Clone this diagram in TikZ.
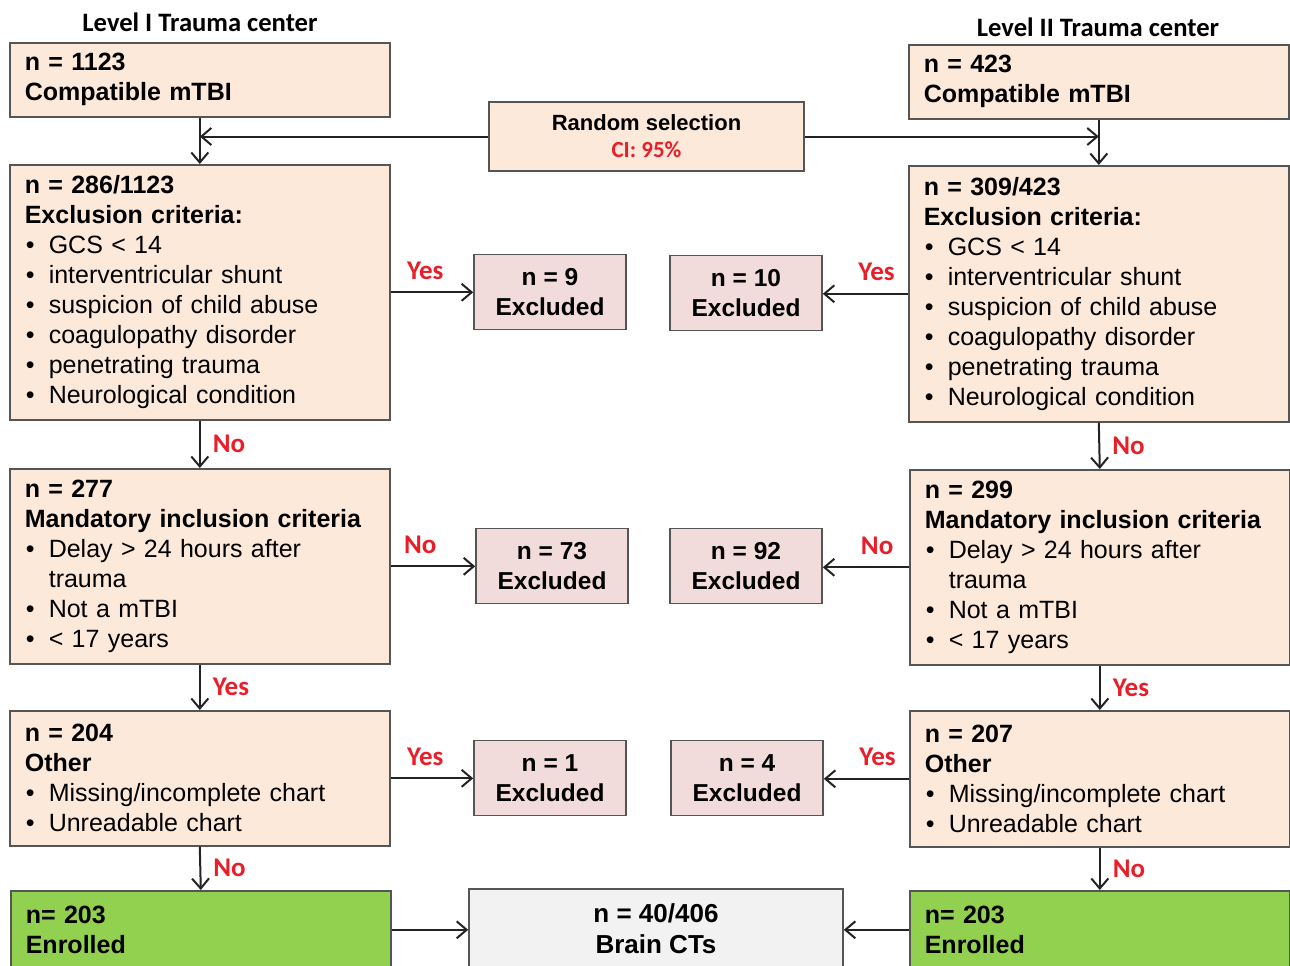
\documentclass[tikz,border=0pt]{standalone}
\usepackage{fontspec}
\setmainfont{Liberation Sans}
\newfontfamily\carlito{Carlito}
\usepackage{tikz}
\usetikzlibrary{arrows.meta, positioning}

\definecolor{peach}{RGB}{252,233,218}
\definecolor{pinkx}{RGB}{242,220,219}
\definecolor{greenx}{RGB}{146,208,80}
\definecolor{grayx}{RGB}{242,242,242}
\definecolor{edge}{RGB}{85,85,85}
\definecolor{arrowc}{RGB}{35,35,35}
\definecolor{lblred}{RGB}{232,30,40}

\newcommand{\bul}{\makebox[12pt][l]{\hspace{0.5pt}\textbullet}}
\newcommand{\ind}{\hspace*{12pt}}

\begin{document}
\begin{tikzpicture}[x=0.5pt, y=-0.5pt]
\tikzstyle{block} = [draw=edge, line width=0.8pt, fill=peach, anchor=north west,
    text width=175pt, inner xsep=7.5pt, inner ysep=0pt, align=left,
    font=\fontsize{12.5}{15}\selectfont]
\tikzstyle{excl} = [draw=edge, line width=0.8pt, fill=pinkx, minimum width=76pt,
    minimum height=37.5pt, align=center, font=\fontsize{12.25}{15}\selectfont\bfseries]
\tikzstyle{arrow} = [line width=1pt, draw=arrowc, -{Straight Barb[length=5pt,width=8.5pt]}]
\tikzstyle{lbl} = [text=lblred, font=\carlito\bfseries\fontsize{13.5}{15}\selectfont, inner sep=1pt]
\tikzstyle{title} = [font=\carlito\bfseries\fontsize{13.3}{15}\selectfont]

\useasboundingbox (0,0) rectangle (1290,965);
\clip (0,0) rectangle (1290,965);

% Titles
\node [title] (titleI) at (200,22) {Level I Trauma center};
\node [title] (titleII) at (1098,27) {Level II Trauma center};

% Left column
\node [block, minimum height=37pt] (a1) at (9,42) {\bfseries n = 1123\\ Compatible mTBI};
\node [block, minimum height=127.5pt] (a2) at (9,164) {{\bfseries n = 286/1123}\\
    {\bfseries Exclusion criteria:}\\
    \bul GCS < 14\\
    \bul interventricular shunt\\
    \bul suspicion of child abuse\\
    \bul coagulopathy disorder\\
    \bul penetrating trauma\\
    \bul Neurological condition};
\node [block, minimum height=97.5pt] (a3) at (9,468) {{\bfseries n = 277}\\
    {\bfseries Mandatory inclusion criteria}\\
    \bul Delay > 24 hours after\\
    \ind trauma\\
    \bul Not a mTBI\\
    \bul < 17 years};
\node [block, minimum height=67.5pt] (a4) at (9,710) {{\bfseries n = 204}\\
    {\bfseries Other}\\
    \bul Missing/incomplete chart\\
    \bul Unreadable chart};
\node [block, fill=greenx, minimum height=39pt] (a5) at (10,890) {\bfseries n= 203\\ Enrolled};

% Right column
\node [block, minimum height=37pt] (b1) at (908,44) {\bfseries n = 423\\ Compatible mTBI};
\node [block, minimum height=128pt] (b2) at (908,165) {{\bfseries n = 309/423}\\
    {\bfseries Exclusion criteria:}\\
    \bul GCS < 14\\
    \bul interventricular shunt\\
    \bul suspicion of child abuse\\
    \bul coagulopathy disorder\\
    \bul penetrating trauma\\
    \bul Neurological condition};
\node [block, minimum height=97.5pt] (b3) at (909,469) {{\bfseries n = 299}\\
    {\bfseries Mandatory inclusion criteria}\\
    \bul Delay > 24 hours after\\
    \ind trauma\\
    \bul Not a mTBI\\
    \bul < 17 years};
\node [block, minimum height=68pt] (b4) at (909,710) {{\bfseries n = 207}\\
    {\bfseries Other}\\
    \bul Missing/incomplete chart\\
    \bul Unreadable chart};
\node [block, fill=greenx, minimum height=39pt] (b5) at (909,890) {\bfseries n= 203\\ Enrolled};

% Middle
\node [draw=edge, line width=0.8pt, fill=peach, minimum width=157.5pt, minimum height=34.5pt,
    align=center, font=\fontsize{11}{13.5}\selectfont\bfseries] (rand) at (646.5,136.5)
    {Random selection\\ {\carlito\fontsize{11.5}{13.5}\selectfont\color{lblred}CI: 95\%}};
\node [excl] (x9) at (550,292) {n = 9\\ Excluded};
\node [excl] (x10) at (746,293) {n = 10\\ Excluded};
\node [excl] (x73) at (552,566) {n = 73\\ Excluded};
\node [excl] (x92) at (746,566) {n = 92\\ Excluded};
\node [excl] (x1) at (550,778) {n = 1\\ Excluded};
\node [excl] (x4) at (747,778) {n = 4\\ Excluded};
\node [draw=edge, line width=0.8pt, fill=grayx, minimum width=187pt, minimum height=40pt,
    align=center, font=\fontsize{13}{15.5}\selectfont\bfseries] (brain) at (656,929)
    {n = 40/406\\ Brain CTs};

% Arrows
\draw [arrow] (a1.south) -- (a2.north);
\draw [arrow] (b1.south) -- (b2.north);
\draw [arrow] (rand.west) -- (rand.west -| a1.south);
\draw [arrow] (rand.east) -- (rand.east -| b1.south);
\draw [arrow] (a2.east) -- node[lbl, above=5pt, pos=0.42] {Yes} (a2.east -| x9.west);
\draw [arrow] (b2.west) -- node[lbl, above=5pt, pos=0.37] {Yes} (b2.west -| x10.east);
\draw [arrow] (a2.south) -- node[lbl, right=5pt] {No} (a3.north);
\draw [arrow] (b2.south) -- node[lbl, right=5pt] {No} (b3.north);
\draw [arrow] (a3.east) -- node[lbl, above=5pt, pos=0.35] {No} (a3.east -| x73.west);
\draw [arrow] (b3.west) -- node[lbl, above=5pt, pos=0.37] {No} (b3.west -| x92.east);
\draw [arrow] (a3.south) -- node[lbl, right=5pt] {Yes} (a4.north);
\draw [arrow] (b3.south) -- node[lbl, right=5pt] {Yes} (b4.north);
\draw [arrow] (a4.east) -- node[lbl, above=5pt, pos=0.42] {Yes} (a4.east -| x1.west);
\draw [arrow] (b4.west) -- node[lbl, above=5pt, pos=0.37] {Yes} (b4.west -| x4.east);
\draw [arrow] (a4.south) -- node[lbl, right=5pt] {No} (a5.north);
\draw [arrow] (b4.south) -- node[lbl, right=5pt] {No} (b5.north);
\draw [arrow] (a5.east) -- (a5.east -| brain.west);
\draw [arrow] (b5.west) -- (b5.west -| brain.east);
\end{tikzpicture}
\end{document}
